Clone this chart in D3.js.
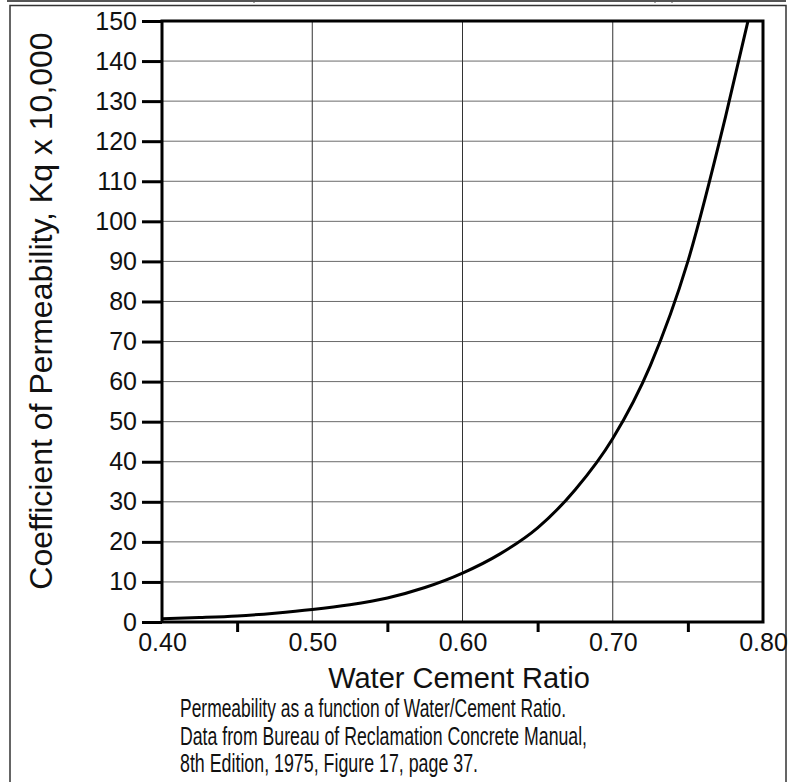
<!DOCTYPE html>
<html>
<head>
<meta charset="utf-8">
<script src="https://cdn.jsdelivr.net/npm/d3@7/dist/d3.min.js"></script>
<style>
  html, body { margin: 0; padding: 0; background: #fff; }
  svg text { font-family: "Liberation Sans", Arial, sans-serif; fill: #111; }
</style>
</head>
<body>
<script>
// values
const wcRatio = [0.40, 0.425, 0.45, 0.475, 0.50, 0.525, 0.55, 0.575, 0.60, 0.625, 0.65, 0.675, 0.70, 0.725, 0.75, 0.775, 0.79]
const permeability = [0.8, 1.1, 1.5, 2.2, 3.1, 4.3, 6.0, 8.6, 12.2, 17, 23.5, 33, 45.8, 64, 90, 126, 150]
const xTickLabels = [0.40, 0.50, 0.60, 0.70, 0.80]
const xMinorTicks = [0.45, 0.55, 0.65, 0.75]
const yTickValues = [0, 10, 20, 30, 40, 50, 60, 70, 80, 90, 100, 110, 120, 130, 140, 150]
const captionLines = [
  'Permeability as a function of Water/Cement Ratio.',
  'Data from Bureau of Reclamation Concrete Manual,',
  '8th Edition, 1975, Figure 17, page 37.'
]

const W = 790, H = 782
const svg = d3.select('body').append('svg')
  .attr('width', W)
  .attr('height', H)

// cropped strip at the very top and the outer frame
svg.append('line')
  .attr('x1', 7).attr('x2', 786).attr('y1', 1).attr('y2', 1)
  .attr('stroke', '#555').attr('stroke-width', 2)
;[254, 655, 672].forEach(x => {
  svg.append('line')
    .attr('x1', x).attr('x2', x).attr('y1', 0).attr('y2', 3)
    .attr('stroke', '#555').attr('stroke-width', 1)
})
svg.append('rect')
  .attr('x', 10).attr('y', 5.5)
  .attr('width', 776).attr('height', 790)
  .attr('fill', 'none').attr('stroke', '#333').attr('stroke-width', 1.5)

const x = d3.scaleLinear().domain([0.4, 0.8]).range([162, 763])
const y = d3.scaleLinear().domain([0, 150]).range([622, 21])

// grid
svg.append('g').selectAll('line')
  .data(yTickValues.filter(v => v > 0 && v < 150))
  .join('line')
  .attr('x1', x(0.4)).attr('x2', x(0.8))
  .attr('y1', d => y(d)).attr('y2', d => y(d))
  .attr('stroke', '#6a6a6a').attr('stroke-width', 1)
svg.append('g').selectAll('line')
  .data(xTickLabels.filter(v => v > 0.4 && v < 0.8))
  .join('line')
  .attr('x1', d => x(d)).attr('x2', d => x(d))
  .attr('y1', y(0)).attr('y2', y(150))
  .attr('stroke', '#333').attr('stroke-width', 1)

// curve
svg.append('clipPath').attr('id', 'plotClip')
  .append('rect')
  .attr('x', x(0.4)).attr('y', y(150))
  .attr('width', x(0.8) - x(0.4)).attr('height', y(0) - y(150))
const line = d3.line()
  .x((d, i) => x(wcRatio[i]))
  .y(d => y(d))
  .curve(d3.curveMonotoneX)
svg.append('path')
  .datum(permeability)
  .attr('clip-path', 'url(#plotClip)')
  .attr('d', line)
  .attr('fill', 'none')
  .attr('stroke', '#000')
  .attr('stroke-width', 3)

// plot frame
svg.append('rect')
  .attr('x', x(0.4)).attr('y', y(150))
  .attr('width', x(0.8) - x(0.4)).attr('height', y(0) - y(150))
  .attr('fill', 'none').attr('stroke', '#000').attr('stroke-width', 3)

// y axis
const yAxis = svg.append('g')
  .attr('transform', `translate(${x(0.4)},0)`)
  .call(d3.axisLeft(y).tickValues(yTickValues).tickSize(20).tickPadding(5).tickFormat(d3.format('d')))
yAxis.select('.domain').remove()
yAxis.selectAll('line').attr('stroke', '#000').attr('stroke-width', 3)
yAxis.selectAll('text').style('font-size', '25px')

// x axis
const xAxis = svg.append('g')
  .attr('transform', `translate(0,${y(0)})`)
  .call(d3.axisBottom(x).tickValues(xTickLabels).tickSize(0).tickPadding(11).tickFormat(d3.format('.2f')))
xAxis.select('.domain').remove()
xAxis.selectAll('text').style('font-size', '25px')

const xMinor = svg.append('g')
  .attr('transform', `translate(0,${y(0)})`)
  .call(d3.axisBottom(x).tickValues(xMinorTicks).tickSize(10).tickFormat(''))
xMinor.select('.domain').remove()
xMinor.selectAll('line').attr('stroke', '#000').attr('stroke-width', 3)

// titles
svg.append('text')
  .attr('x', 459).attr('y', 688)
  .attr('text-anchor', 'middle')
  .style('font-size', '29px')
  .text('Water Cement Ratio')

svg.append('text')
  .attr('transform', 'translate(52,311) rotate(-90)')
  .attr('text-anchor', 'middle')
  .style('font-size', '32px')
  .text('Coefficient of Permeability, Kq x 10,000')

const captionWidths = [386, 407, 298]
svg.append('g').selectAll('text')
  .data(captionLines)
  .join('text')
  .attr('x', 180)
  .attr('y', (d, i) => 717 + i * 27.5)
  .attr('textLength', (d, i) => captionWidths[i])
  .attr('lengthAdjust', 'spacingAndGlyphs')
  .style('font-size', '25px')
  .text(d => d)
</script>
</body>
</html>
